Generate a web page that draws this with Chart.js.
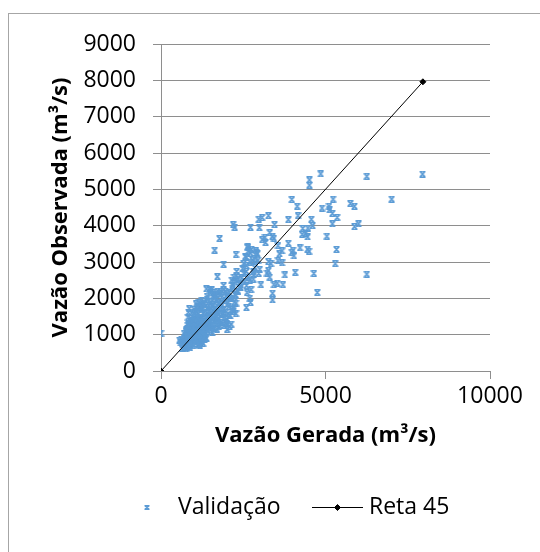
<!DOCTYPE html>
<html>
<head>
<meta charset="utf-8">
<script src="https://cdn.jsdelivr.net/npm/chart.js@4/dist/chart.umd.min.js"></script>
<style>
  html, body { margin: 0; padding: 0; background: #fff; }
  #wrap { position: relative; width: 540px; height: 552px; overflow: hidden; }
  #frame { position: absolute; left: 8px; top: 13px; width: 600px; height: 600px; border: 1px solid #a6a6a6; }
  canvas { position: absolute; left: 0; top: 0; }
</style>
</head>
<body>
<div id="wrap">
  <div id="frame"></div>
  <canvas id="c" width="540" height="552"></canvas>
</div>
<script>
// Validation pairs: generated flow (x) against observed flow (y), in m³/s
const generated = [
  0, 7950, 6255, 7010, 6255, 4855, 4510, 4510, 5230, 5755, 5880, 5105, 5125, 4895, 5210, 5355,
  6005, 5880, 5210, 5040, 5335, 5295, 4645, 4750, 3975, 4140, 4165, 3870, 4570, 4605, 4465, 4310,
  4395, 4290, 4455, 3870, 4225, 4455, 4500, 4015, 3975, 4040, 4080, 3765, 3705, 3535, 3430, 3390,
  3390, 3035, 3265, 3075, 2970, 3450, 2990, 2720, 2195, 2240, 1780, 1630, 1905, 1715, 2280, 3305,
  3390, 3430, 3160, 3075, 3180, 3555, 3680, 3600, 3555, 3680, 3345, 3265, 3265, 3220, 3305, 2970,
  2885, 2930, 2865, 2635, 2655, 2595, 2720, 2780, 2510, 2595, 2805, 2655, 2805, 2550, 2425, 2740,
  2615, 2700, 2720, 2595, 2300, 2215, 2345, 2175, 2320, 2260, 2115, 2280, 2215, 2280, 2090, 2010,
  1905, 1800, 1590, 1380, 1485, 1065, 860, 835,
  2450, 2520, 2480, 2600, 2700, 2560, 2750, 2640, 2900, 2850, 2380, 2250, 2300, 2150, 2420, 2600,
  2700, 3000, 2950, 2820,
  640, 700, 760, 820, 880, 690, 750, 830, 910, 980, 1060, 1130, 1200, 1280, 600, 660, 1180,
  560, 620, 680, 720, 780, 840, 900, 960, 1020, 1080, 1140, 1200, 1260, 1320, 1380, 740, 800, 880,
  940, 1000, 1060, 1120, 1180, 700, 860, 1240,
  700, 760, 820, 880, 940, 1000, 1060, 1120, 1180, 1240, 1300, 1360, 1420, 1500, 800, 860, 920,
  980, 1040, 1100, 1160, 1220, 1280, 1560, 1620, 1700, 780, 900, 1140,
  820, 880, 940, 1000, 1060, 1120, 1180, 1240, 1300, 1360, 1420, 1480, 1540, 1600, 1680, 1760,
  1840, 1920, 2000, 960, 1080, 1200, 1560, 1300, 1440, 1720, 900, 2080, 1800, 2010, 2135, 1965,
  900, 980, 1060, 1120, 1200, 1280, 1360, 1440, 1520, 1600, 1680, 1760, 1840, 1920, 2000, 1000,
  1160, 1400, 1560, 1720, 1900, 2100, 820,
  1000, 1080, 1160, 1240, 1320, 1400, 1480, 1560, 1640, 1720, 1800, 1900, 1980, 2060, 2150, 1220,
  1100, 1460, 1700, 2200,
  1150, 1240, 1320, 1400, 1500, 1580, 1680, 1760, 1860, 1950, 2040, 2130, 2230, 1300, 1620,
  1400, 1500, 1600, 1720, 1800, 1900, 2000, 2080, 2180, 2260, 1540, 1680, 1840, 1960, 2340, 2400,
  730, 790, 850, 910, 970, 1030, 1090, 1150, 1210, 1270, 1330, 770, 830, 890, 950, 1010,
  1070, 1130, 1190, 1250, 1310, 1370, 1430, 870, 930, 990, 1050, 1110, 1170, 1230, 1290, 1350
];
const observed = [
  1040, 5420, 5360, 4730, 2665, 5425, 5260, 5115, 4730, 4610, 4535, 4535, 4440, 4485, 4340, 4225,
  4050, 3975, 4050, 3710, 3345, 2955, 2685, 2160, 4720, 4535, 4275, 4165, 4175, 4000, 3935, 3925,
  3790, 3760, 3690, 3515, 3390, 3355, 3295, 3325, 3265, 3170, 2715, 2645, 2375, 2420, 2375, 2140,
  1955, 2375, 4275, 4225, 4175, 4030, 3945, 3955, 4030, 3955, 3645, 3325, 2935, 2595, 3205, 3810,
  3710, 3655, 3680, 3615, 3535, 3450, 3305, 3225, 3035, 2975, 2955, 3015, 2760, 2695, 2585, 2685,
  3305, 3225, 3110, 3420, 3305, 3130, 3245, 3050, 2955, 2740, 2740, 2585, 2530, 2450, 2375, 2240,
  2160, 2005, 1890, 1745, 2740, 2585, 2530, 2355, 2200, 2085, 2005, 1870, 1715, 1580, 1530, 2130,
  2355, 2200, 2160, 2260, 2240, 1850, 1715, 1620,
  2560, 2680, 2820, 2900, 3000, 3150, 3350, 3400, 3250, 2850, 2400, 2450, 2620, 2500, 2300, 2350,
  2500, 2800, 3050, 2650,
  620, 650, 610, 680, 640, 720, 760, 740, 720, 700, 760, 720, 780, 760, 780, 800, 700,
  850, 880, 820, 900, 860, 920, 880, 840, 900, 860, 940, 880, 920, 860, 900, 960, 990, 980,
  960, 1000, 980, 1000, 960, 840, 820, 820,
  1040, 1080, 1020, 1100, 1060, 1140, 1080, 1160, 1040, 1120, 1060, 1180, 1100, 1140, 1160, 1190, 1000,
  1200, 1020, 1100, 1200, 1180, 1000, 1060, 1180, 1150, 1120, 1150, 1060,
  1250, 1300, 1220, 1340, 1260, 1380, 1300, 1240, 1360, 1280, 1220, 1340, 1260, 1380, 1300, 1220,
  1340, 1260, 1300, 1390, 1200, 1400, 1220, 1220, 1390, 1390, 1370, 1230, 1240, 1145, 1290, 1330,
  1450, 1520, 1420, 1560, 1480, 1590, 1440, 1540, 1460, 1580, 1500, 1440, 1560, 1480, 1420, 1600,
  1420, 1600, 1410, 1600, 1590, 1520, 1480,
  1700, 1640, 1760, 1680, 1620, 1740, 1660, 1780, 1700, 1640, 1760, 1690, 1620, 1780, 1700, 1800,
  1780, 1800, 1800, 1650,
  1880, 1940, 1860, 1980, 1900, 1840, 1960, 1880, 1820, 1940, 1870, 1990, 1900, 1820, 2000,
  2060, 2150, 2080, 2200, 2120, 2250, 2050, 2160, 2260, 2100, 2240, 2100, 2030, 2180, 2200, 2300,
  770, 930, 710, 1010, 870, 1150, 950, 1230, 1070, 1310, 990, 1130, 1270, 790, 1110, 1330,
  830, 1210, 1050, 1450, 930, 1170, 1290, 1030, 1370, 1190, 890, 1470, 1010, 1330, 1110, 1250
];
// 45° reference line
const lineX = [0, 7960];
const lineY = [0, 7960];
// Axis ranges and tick steps
const xRange = [0, 10000];
const yRange = [0, 9000];
const xStep = 5000;
const yStep = 1000;

const BLUE = '#5b9bd5';
const GRID = '#8e8e8e';
const FONT = 'Open Sans';

// "x" marker with short caps top and bottom
function makeMarker(w, h, lw) {
  const c = document.createElement('canvas');
  c.width = w; c.height = h;
  const g = c.getContext('2d');
  g.strokeStyle = BLUE;
  g.lineWidth = lw;
  g.beginPath();
  g.moveTo(1, 1); g.lineTo(w - 1, h - 1);
  g.moveTo(w - 1, 1); g.lineTo(1, h - 1);
  g.moveTo(0.5, 0.75); g.lineTo(w - 0.5, 0.75);
  g.moveTo(0.5, h - 0.75); g.lineTo(w - 0.5, h - 0.75);
  g.stroke();
  return c;
}
const plotMarker = makeMarker(7, 7, 1.5);
const keyMarker = makeMarker(6, 5, 1.3);

const scatterPts = generated.map((x, i) => ({ x, y: observed[i] }));
const linePts = lineX.map((x, i) => ({ x, y: lineY[i] }));

// Legend row beneath the chart
const bottomKey = {
  id: 'bottomKey',
  afterDraw(chart) {
    const ctx = chart.ctx;
    const y = 507;
    ctx.save();
    ctx.drawImage(keyMarker, 144, y - 2);
    ctx.fillStyle = '#000';
    ctx.font = '23px "' + FONT + '"';
    ctx.textBaseline = 'middle';
    ctx.textAlign = 'left';
    ctx.fillText('Validação', 178, y);
    ctx.strokeStyle = '#000';
    ctx.lineWidth = 1;
    ctx.beginPath();
    ctx.moveTo(312, y + 0.5);
    ctx.lineTo(363, y + 0.5);
    ctx.stroke();
    ctx.fillStyle = '#000';
    Chart.helpers.drawPoint(ctx, { pointStyle: 'rectRot', radius: 3, borderWidth: 1 }, 337.5, y + 0.5);
    ctx.fillText('Reta 45', 369, y);
    ctx.restore();
  }
};

const plainNumber = (v) => String(v);

new Chart(document.getElementById('c'), {
  type: 'scatter',
  data: {
    datasets: [
      {
        label: 'Validação',
        data: scatterPts,
        order: 1,
        pointStyle: plotMarker,
        pointRadius: 3.5,
        borderColor: BLUE,
        backgroundColor: BLUE
      },
      {
        label: 'Reta 45',
        data: linePts,
        order: 0,
        showLine: true,
        borderColor: '#000',
        borderWidth: 1,
        pointStyle: 'rectRot',
        pointRadius: 3,
        pointBackgroundColor: '#000',
        pointBorderColor: '#000'
      }
    ]
  },
  options: {
    responsive: false,
    animation: false,
    layout: { padding: { top: 44, right: 50, left: 0, bottom: 0 } },
    plugins: {
      legend: { display: false },
      tooltip: { enabled: false }
    },
    scales: {
      x: {
        type: 'linear',
        min: xRange[0],
        max: xRange[1],
        ticks: { stepSize: xStep, color: '#000', font: { family: FONT, size: 23 }, padding: 4, maxRotation: 0, callback: plainNumber },
        grid: { drawOnChartArea: false, drawTicks: true, tickLength: 8, color: GRID },
        border: { color: GRID },
        title: {
          display: true,
          text: 'Vazão Gerada (m³/s)',
          color: '#000',
          font: { family: FONT, size: 22, weight: 'bold' },
          padding: { top: 0, bottom: 103 }
        },
        afterFit(scale) { scale.height = 181; }
      },
      y: {
        type: 'linear',
        min: yRange[0],
        max: yRange[1],
        ticks: { stepSize: yStep, color: '#000', font: { family: FONT, size: 23 }, padding: 17, callback: plainNumber },
        grid: { color: GRID, tickLength: 8 },
        border: { color: GRID },
        title: {
          display: true,
          text: 'Vazão Observada (m³/s)',
          color: '#000',
          font: { family: FONT, size: 22, weight: 'bold' },
          padding: { top: 48, bottom: 0 }
        },
        afterFit(scale) { scale.width = 161; }
      }
    }
  },
  plugins: [bottomKey]
});
</script>
</body>
</html>
